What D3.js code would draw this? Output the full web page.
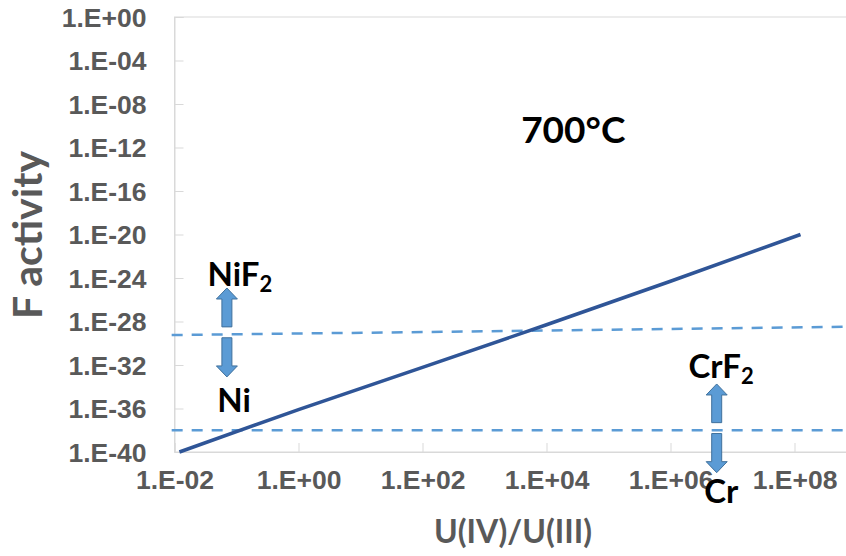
<!DOCTYPE html>
<html>
<head>
<meta charset="utf-8">
<script src="https://cdn.jsdelivr.net/npm/d3@7"></script>
<style>
  html, body { margin: 0; padding: 0; background: #fff; }
  svg { display: block; font-family: Lato, "Open Sans", sans-serif; }
  .tick text { fill: #595959; font-weight: bold; font-size: 26.5px; }
</style>
</head>
<body>
<svg id="chart"></svg>
<script>
'use strict';

// U(IV)/U(III) ratio vs F activity
var ratioValues = [0.012, 1, 100, 1e4, 1e6, 1.25e8];
var activityValues = [1e-40, 8e-37, 6e-33, 5e-29, 5e-25, 1e-20];

// equilibrium lines (dashed)
var niLineX = [0.009, 1e10];
var niLineY = [5.6e-30, 4e-29];
var crLineX = [0.009, 1e10];
var crLineY = [1e-38, 1e-38];

var xTickValues = [1e-2, 1e0, 1e2, 1e4, 1e6, 1e8];
var yTickValues = [1e0, 1e-4, 1e-8, 1e-12, 1e-16, 1e-20, 1e-24, 1e-28, 1e-32, 1e-36, 1e-40];

// arrows: x, tail y, tip y
var arrows = [
  { x: 0.07, from: 3.2e-29, to: 1.2e-25 },
  { x: 0.07, from: 3.2e-30, to: 8e-34 },
  { x: 5.56e6, from: 5e-38, to: 1.8e-34 },
  { x: 5.56e6, from: 5e-39, to: 1.26e-42 }
];

// labels: text, subscript, x, baseline y
var labels = [
  { text: 'NiF', sub: '2', x: 0.034, y: 1.8e-25 },
  { text: 'Ni', sub: '', x: 0.049, y: 5e-37 },
  { text: 'CrF', sub: '2', x: 1.95e6, y: 6.3e-34 },
  { text: 'Cr', sub: '', x: 3.5e6, y: 2e-45 }
];

var WIDTH = 846, HEIGHT = 556;

var svg = d3.select('#chart')
  .attr('width', WIDTH)
  .attr('height', HEIGHT);

svg.append('rect')
  .attr('width', WIDTH)
  .attr('height', HEIGHT)
  .attr('fill', '#fff');

var xScale = d3.scaleLog()
  .domain([1e-2, 1e10])
  .range([174.5, 918.5]);

var yScale = d3.scaleLog()
  .domain([1e-40, 1e0])
  .range([452, 17]);

function expLabel(v) {
  var e = Math.round(Math.log10(v));
  var s = String(Math.abs(e));
  if (s.length < 2) s = '0' + s;
  return '1.E' + (e < 0 ? '-' : '+') + s;
}

// plot area frame
svg.append('rect')
  .attr('x', xScale.range()[0])
  .attr('y', yScale.range()[1])
  .attr('width', xScale.range()[1] - xScale.range()[0])
  .attr('height', yScale.range()[0] - yScale.range()[1])
  .attr('fill', 'none')
  .attr('stroke', '#d9d9d9')
  .attr('stroke-width', 1);

// x axis
var xAxis = d3.axisBottom(xScale)
  .tickValues(xTickValues)
  .tickSize(-9)
  .tickPadding(37)
  .tickFormat(expLabel);

var gx = svg.append('g')
  .attr('class', 'x axis')
  .attr('transform', 'translate(0,' + yScale.range()[0] + ')')
  .call(xAxis);

// y axis
var yAxis = d3.axisLeft(yScale)
  .tickValues(yTickValues)
  .tickSize(-9)
  .tickPadding(28)
  .tickFormat(expLabel);

var gy = svg.append('g')
  .attr('class', 'y axis')
  .attr('transform', 'translate(' + xScale.range()[0] + ',0)')
  .call(yAxis);

[gx, gy].forEach(function(g) {
  g.select('.domain').attr('stroke', '#d9d9d9');
  g.selectAll('.tick line').attr('stroke', '#d9d9d9');
});
gy.selectAll('.tick text').attr('dy', '0.35em');
gx.selectAll('.tick text').attr('dy', '0');

// axis titles
svg.append('text')
  .attr('x', 513)
  .attr('y', 543)
  .attr('text-anchor', 'middle')
  .attr('fill', '#595959')
  .attr('font-weight', 'bold')
  .attr('font-size', 32)
  .text('U(IV)/U(III)');

svg.append('text')
  .attr('transform', 'translate(42,235) rotate(-90)')
  .attr('text-anchor', 'middle')
  .attr('fill', '#595959')
  .attr('font-weight', 'bold')
  .attr('font-size', 41)
  .text('F activity');

// dashed equilibrium lines
var dashLine = d3.line()
  .x(function(d) { return xScale(d[0]); })
  .y(function(d) { return yScale(d[1]); });

[[niLineX, niLineY], [crLineX, crLineY]].forEach(function(pair) {
  svg.append('path')
    .datum(d3.zip(pair[0], pair[1]))
    .attr('fill', 'none')
    .attr('stroke', '#5b9bd5')
    .attr('stroke-width', 2.5)
    .attr('stroke-dasharray', '11,9')
    .attr('d', dashLine);
});

// main line
svg.append('path')
  .datum(d3.zip(ratioValues, activityValues))
  .attr('fill', 'none')
  .attr('stroke', '#2f5597')
  .attr('stroke-width', 3.5)
  .attr('stroke-linejoin', 'round')
  .attr('d', dashLine);

// block arrows
arrows.forEach(function(a) {
  var cx = xScale(a.x),
    y0 = yScale(a.from),
    y1 = yScale(a.to),
    dir = y1 < y0 ? -1 : 1,
    head = 11,
    hw = 10.5,
    sw = 5;
  var yb = y1 - dir * head;
  var pts = [
    [cx - sw, y0], [cx - sw, yb], [cx - hw, yb], [cx, y1],
    [cx + hw, yb], [cx + sw, yb], [cx + sw, y0]
  ];
  svg.append('path')
    .attr('d', 'M' + pts.join('L') + 'Z')
    .attr('fill', '#5b9bd5')
    .attr('stroke', '#41719c')
    .attr('stroke-width', 1);
});

// labels
labels.forEach(function(l) {
  var t = svg.append('text')
    .attr('x', xScale(l.x))
    .attr('y', yScale(l.y))
    .attr('fill', '#000')
    .attr('font-weight', 'bold')
    .attr('font-size', 33)
    .text(l.text);
  if (l.sub) {
    t.append('tspan')
      .attr('font-size', 22)
      .attr('dy', 6)
      .text(l.sub);
  }
});

svg.append('text')
  .attr('x', xScale(3.9e3))
  .attr('y', yScale(2.5e-12))
  .attr('fill', '#000')
  .attr('font-weight', 'bold')
  .attr('font-size', 37)
  .text('700\u00b0C');
</script>
</body>
</html>
